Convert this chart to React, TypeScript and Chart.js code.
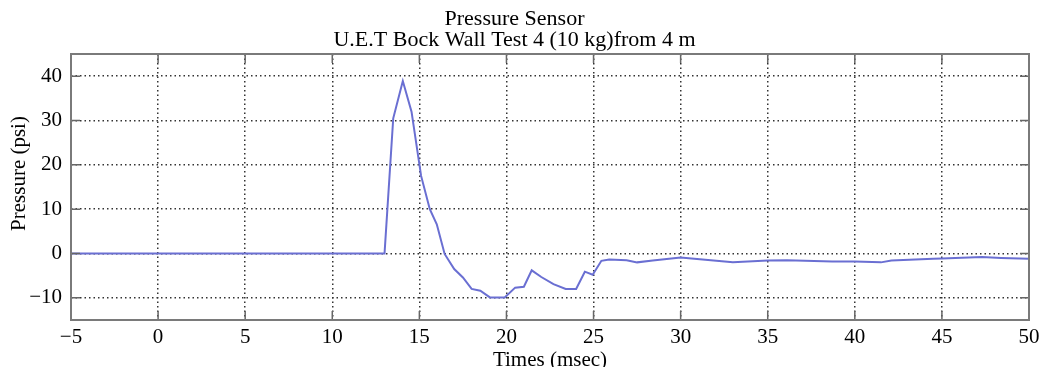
import React, { useEffect, useRef } from "react";
import { Chart, registerables } from "chart.js";

Chart.register(...registerables);

const titleLines = ["Pressure Sensor", "U.E.T Bock Wall Test 4 (10 kg)from 4 m"];
const xLabel = "Times (msec)";
const yLabel = "Pressure (psi)";

const timeMs = [
  -5, 0, 5, 10, 13.0, 13.5, 14.05, 14.55, 15.1, 15.6, 16.0, 16.45, 17.0, 17.5, 18.0, 18.5,
  19.05, 19.9, 20.5, 21.0, 21.45, 22.0, 22.7, 23.4, 24.0, 24.5, 24.95, 25.45, 25.9, 26.9,
  27.5, 28.4, 30.0, 31.1, 33.0, 35.0, 36.1, 38.7, 40.0, 41.5, 42.1, 44.5, 45.0, 47.3, 48.4, 50.0,
];
const pressurePsi = [
  0, 0, 0, 0, 0, 30.5, 38.9, 32.0, 17.5, 10.0, 6.6, -0.1, -3.5, -5.4, -8.0, -8.4,
  -9.9, -9.9, -7.7, -7.5, -3.8, -5.3, -6.9, -8.0, -8.0, -4.1, -4.8, -1.65, -1.35, -1.5,
  -2.0, -1.6, -0.9, -1.3, -2.0, -1.6, -1.5, -1.8, -1.8, -2.0, -1.6, -1.2, -1.1, -0.8, -1.0, -1.2,
];
const xTicks = [-5, 0, 5, 10, 15, 20, 25, 30, 35, 40, 45, 50];
const yTicks = [-10, 0, 10, 20, 30, 40];

const FONT = "'Liberation Serif', 'Times New Roman', serif";

const fmt = (v: any) => (Number(v) < 0 ? "\u2212" + Math.abs(Number(v)) : String(v));

const framePlugin = {
  id: "frame",
  afterDraw(chart: any) {
    const { ctx, chartArea } = chart;
    const { left, right, top, bottom } = chartArea;
    const xs = chart.scales.x;
    const ys = chart.scales.y;
    ctx.save();
    ctx.strokeStyle = "#666";
    ctx.lineWidth = 1.5;
    ctx.setLineDash([]);
    for (const v of xTicks) {
      const px = xs.getPixelForValue(v);
      ctx.beginPath();
      ctx.moveTo(px, top);
      ctx.lineTo(px, top + 9);
      ctx.moveTo(px, bottom);
      ctx.lineTo(px, bottom - 9);
      ctx.stroke();
    }
    for (const v of yTicks) {
      const py = ys.getPixelForValue(v);
      ctx.beginPath();
      ctx.moveTo(left, py);
      ctx.lineTo(left + 9, py);
      ctx.moveTo(right, py);
      ctx.lineTo(right - 9, py);
      ctx.stroke();
    }
    ctx.strokeStyle = "#7a7a7a";
    ctx.lineWidth = 2;
    ctx.strokeRect(left, top, right - left, bottom - top);

    // y-axis title
    ctx.translate(19, 173.5);
    ctx.rotate(-Math.PI / 2);
    ctx.fillStyle = "#000";
    ctx.font = "21px " + FONT;
    ctx.textAlign = "center";
    ctx.textBaseline = "middle";
    ctx.fillText(yLabel, 0, 0);
    ctx.restore();
  },
};

export default function App() {
  const ref = useRef<HTMLCanvasElement | null>(null);
  useEffect(() => {
    document.body.style.margin = "0";
    const canvas = ref.current;
    if (!canvas) return;
    const chart = new Chart(canvas, {
      type: "line",
      data: {
        datasets: [
          {
            data: timeMs.map((t, i) => ({ x: t, y: pressurePsi[i] })),
            borderColor: "#6a6fd2",
            borderWidth: 2,
            pointRadius: 0,
            tension: 0,
            fill: false,
          },
        ],
      },
      options: {
        animation: false,
        responsive: false,
        maintainAspectRatio: false,
        layout: { padding: { left: 0, right: 12, top: 0, bottom: 0 } },
        plugins: {
          legend: { display: false },
          tooltip: { enabled: false },
          title: {
            display: true,
            text: titleLines,
            color: "#000",
            font: { family: FONT, size: 22, weight: "normal", lineHeight: 20.5 / 22 },
            padding: { top: 9.25, bottom: 3.75 },
          },
        },
        scales: {
          x: {
            type: "linear",
            min: -5,
            max: 50,
            afterBuildTicks: (s: any) => {
              s.ticks = xTicks.map((v) => ({ value: v }));
            },
            afterFit: (s: any) => {
              s.height = 47;
              s.paddingLeft = 0;
              s.paddingRight = 0;
            },
            ticks: {
              color: "#000",
              font: { family: FONT, size: 21 },
              padding: 5,
              maxRotation: 0,
              autoSkip: false,
              callback: fmt,
            },
            grid: { color: "#333", lineWidth: 1.5, drawTicks: false },
            border: { display: false, dash: [1.5, 3] },
            title: {
              display: true,
              text: xLabel,
              color: "#000",
              font: { family: FONT, size: 21, lineHeight: 14 / 21 },
              padding: { top: 0, bottom: 0 },
            },
          },
          y: {
            type: "linear",
            min: -15,
            max: 45,
            afterBuildTicks: (s: any) => {
              s.ticks = yTicks.map((v) => ({ value: v }));
            },
            afterFit: (s: any) => {
              s.width = 71;
              s.paddingTop = 0;
              s.paddingBottom = 0;
            },
            ticks: {
              color: "#000",
              font: { family: FONT, size: 21 },
              padding: 9,
              callback: fmt,
            },
            grid: { color: "#333", lineWidth: 1.5, drawTicks: false },
            border: { display: false, dash: [1.5, 3] },
          },
        },
      },
      plugins: [framePlugin],
    });
    return () => chart.destroy();
  }, []);
  return (
    <div style={{ width: 1041, height: 367, background: "#fff" }}>
      <canvas ref={ref} width={1041} height={367} style={{ display: "block" }} />
    </div>
  );
}
